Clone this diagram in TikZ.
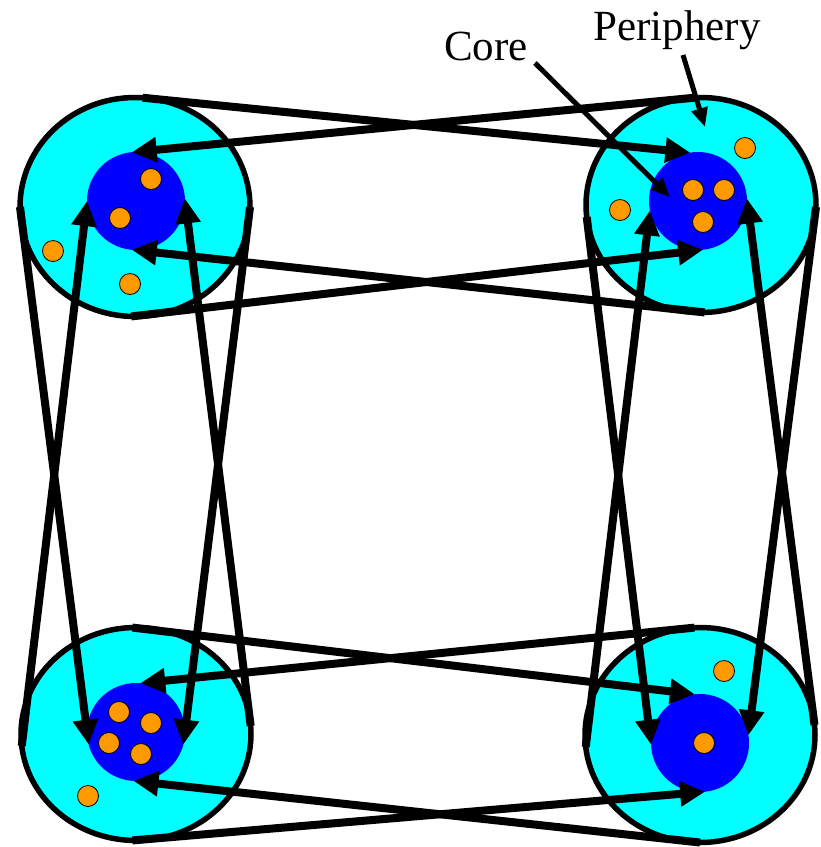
\documentclass[tikz,border=0pt]{standalone}
\usepackage{fontspec}
\setmainfont{Liberation Serif}
\usetikzlibrary{shapes.geometric,arrows.meta}
\definecolor{periph}{RGB}{0,255,255}
\definecolor{corecol}{RGB}{0,0,255}
\definecolor{grcol}{RGB}{255,153,0}
\tikzset{
 region/.style={ellipse, draw=black, line width=5.5pt, fill=periph, minimum width=230pt, minimum height=218pt, inner sep=0pt, outer sep=0pt},
 corebox/.style={circle, fill=corecol, minimum size=98pt, inner sep=0pt, outer sep=0pt},
 grain/.style={circle, draw=black, line width=0.8pt, fill=grcol, minimum size=21pt, inner sep=0pt},
 flow/.style={line width=8pt, -{Triangle[length=25pt,width=24pt]}},
 pointer/.style={line width=5pt, -{Triangle[length=19pt,width=16pt]}},
 lbl/.style={font=\fontsize{43}{50}\selectfont, inner sep=0pt, anchor=base}
}
\begin{document}
\begin{tikzpicture}[x=1pt,y=-1pt]
\useasboundingbox (0,0) rectangle (821,847);
% peripheries
\node[region, minimum height=219pt] (tl) at (135,207) {};
\node[region, minimum height=215pt] (tr) at (701,205) {};
\node[region, minimum height=213pt] (bl) at (136,734) {};
\node[region, minimum height=215pt] (br) at (700,735) {};
% cores
\node[corebox] (tlk) at (136,201) {};
\node[corebox] (trk) at (698,201) {};
\node[corebox] (blk) at (136,732) {};
\node[corebox] (brk) at (700,743) {};
% grains
\node[grain] (g1) at (151,179) {};
\node[grain] (g2) at (120,218) {};
\node[grain] (g3) at (53,251) {};
\node[grain] (g4) at (130,284) {};
\node[grain] (g5) at (693,190) {};
\node[grain] (g6) at (724,190) {};
\node[grain] (g7) at (703,222) {};
\node[grain] (g8) at (745,148) {};
\node[grain] (g9) at (620,210) {};
\node[grain] (g10) at (119,712) {};
\node[grain] (g11) at (151,723) {};
\node[grain] (g12) at (109,743) {};
\node[grain] (g13) at (141,754) {};
\node[grain] (g14) at (88,796) {};
\node[grain] (g15) at (724,671) {};
\node[grain] (g16) at (704,743) {};
% top row
\draw[flow] (tl.86) -- (trk.99);
\draw[flow] (tr.93) -- (tlk.95);
\draw[flow] (tl.268) -- (trk.276);
\draw[flow] (tr.272) -- (tlk.265);
% bottom row
\draw[flow] (bl.92) -- (brk.96);
\draw[flow] (br.93) -- (blk.85);
\draw[flow] (bl.268) -- (brk.276);
\draw[flow] (br.270) -- (blk.267);
% left column
\draw[flow] (tl.180) -- (blk.195);
\draw[flow] (bl.186) -- (tlk.180);
\draw[flow] (tl.0) -- (blk.345);
\draw[flow] (bl.4) -- (tlk.3);
% right column
\draw[flow] (tr.186) -- (brk.182);
\draw[flow] (br.186) -- (trk.191);
\draw[flow] (tr.359) -- (brk.9);
\draw[flow] (br.5) -- (trk.3);
% labels
\node[lbl] (corelbl) at (486,60) {Core};
\node[lbl] (perlbl) at (677,40) {Periphery};
\coordinate (coretip) at (670,197);
\coordinate (pertip) at (705,127);
\draw[pointer] ([xshift=7pt,yshift=-3pt]corelbl.base east) -- (coretip);
\draw[pointer] ([xshift=6pt,yshift=-15pt]perlbl.base) -- (pertip);
\end{tikzpicture}
\end{document}
